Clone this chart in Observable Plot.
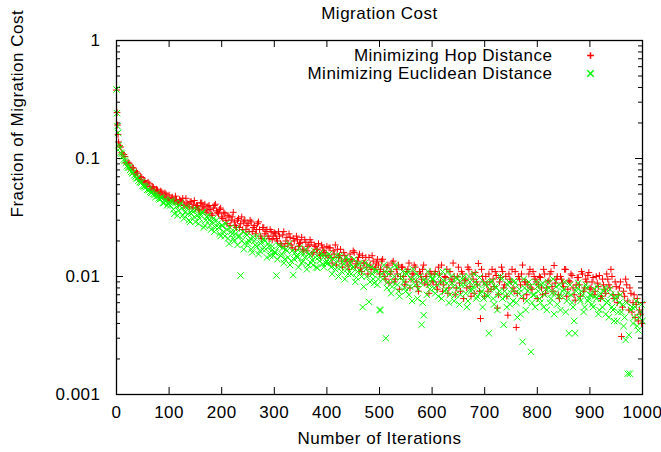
<!DOCTYPE html>
<html><head><meta charset="utf-8">
<script src="https://cdn.jsdelivr.net/npm/d3@7"></script>
<script src="https://cdn.jsdelivr.net/npm/@observablehq/plot@0.6"></script>
<style>
body{margin:0;background:#fff;}
#chart svg{display:block;}
</style></head><body><div id="chart"></div>
<script>
const title = "Migration Cost";
const xLabel = "Number of Iterations";
const yLabel = "Fraction of Migration Cost";
const seriesNames = ["Minimizing Hop Distance", "Minimizing Euclidean Distance"];
const xTicks = [0, 100, 200, 300, 400, 500, 600, 700, 800, 900, 1000];
const yTicks = [0.001, 0.01, 0.1, 1];
const yMinorFactors = [2, 3, 4, 5, 6, 7, 8, 9];

// iteration index of each plotted sample (two interleaved sample sets)
const iterationsA = [0, 1, 2, 3, ...d3.range(4, 1001, 4)];
const iterationsB = d3.range(6, 1000, 4);

// migration cost fraction, in thousandths
const hopPermilleA = [380, 245, 192, 160,
 138, 125, 108, 104, 90, 91, 80, 83, 74, 75, 66, 69, 64, 60, 63, 56, 58, 53, 55, 50, 53, 48, 51, 46, 49,
 46, 44, 48, 42, 45, 43, 40, 46, 41, 43, 38, 44, 40, 37, 42, 39, 41, 36, 40, 34, 38, 41, 35, 37, 32,
 35, 30, 33, 27, 32, 29, 26, 31, 28, 25, 30, 27, 24, 29, 26, 23, 28, 25, 21, 26, 24, 22, 25, 20.5, 23.5,
 21, 24, 19, 22.5, 18, 21.5, 23, 18.5, 21, 17, 20.5, 19, 21.5, 16.5, 19.5, 18, 20.5, 15.5, 18.5, 17, 19, 15, 17.5, 16, 18,
 17.5, 14.5, 16.5, 18.5, 17, 15, 13.5, 16, 14, 12.5, 15.5, 13.5, 16, 12.8, 14.5, 11.8, 15, 13, 12, 14.5, 11.5, 13.5, 12, 14, 10.5,
 13.5, 11, 9.5, 12.5, 10.5, 13, 9, 11.5, 12.5, 10, 12, 8.5, 11, 13, 9.5, 10.5, 12, 8.2, 11, 9.5, 12.5, 10, 8.5, 11, 9.2,
 10.5, 8.5, 12, 9, 7.5, 10, 11.5, 8, 9.5, 13, 7, 10, 8.8, 11, 6.5, 9.5, 12, 8.2, 10.5, 7.2, 9, 12.9, 4.4, 10, 6.8,
 8.5, 10.5, 7.8, 9.5, 11, 5.4, 9, 12, 8, 10, 4.7, 9.5, 11.5, 7.5, 3.7, 10, 8.5, 12.5, 9, 7, 10.5, 8, 11, 9.5, 6.5,
 10, 8, 11.5, 7.2, 9, 10.5, 8.2, 12.4, 9.5, 7, 10, 8.8, 11.5, 6.8, 9.2, 10.5, 8, 6.3, 9.8, 8.5, 11, 7.5, 9.5, 10.2, 7.8,
 9, 7, 10, 8.2, 6.5, 9.5, 7.8, 10.5, 8.5, 11.5, 7, 9, 6, 8, 3.1, 7.5, 9.5, 6.2, 8, 5, 7, 5.8, 4.2, 4.8, 6];

const hopPermilleB = [
 128, 112, 108, 92, 93, 83, 84, 74, 77, 67, 70, 63, 65, 58, 61, 54, 57, 51, 54, 49, 52, 47, 50, 45,
 44, 47, 43, 45, 41, 44, 46, 40, 42, 39, 43, 41, 38, 40, 36, 42, 38, 35, 39, 37, 33, 40, 36, 34, 38,
 31, 34, 28, 32, 30, 35, 27, 30, 26, 32, 29, 25, 28, 30, 24, 27, 25, 29, 22, 26, 23, 25, 21, 24, 22,
 23, 20, 22, 18.5, 24, 20, 19, 21.5, 17.5, 20, 22, 18, 19.5, 17, 20.5, 16.5, 18.5, 19.5, 16, 18, 17, 15.5, 18.5, 16.5, 15,
 15, 17.5, 13, 15.5, 12.5, 14.5, 17, 12, 15, 13.5, 11.5, 14, 16.5, 12, 13.5, 15.5, 11, 13, 14.5, 10.5, 12.5, 15, 11.5, 13, 12.5,
 11.5, 14, 10, 12, 8.8, 11, 13.5, 9.5, 10.5, 7.8, 12, 10, 9, 11.5, 8, 10.5, 12.5, 9, 7.5, 10.5, 11.5, 8.8, 10, 7.2, 10.5,
 9, 11, 7.8, 10.5, 12.5, 8.5, 9.8, 7.2, 11, 9, 10, 8, 12, 7.5, 10.5, 9.2, 8, 11.5, 6.8, 9.5, 10.8, 8.5, 7.5, 11.5, 9,
 10, 7.5, 9, 11.5, 8.2, 10.2, 7, 9.8, 11, 8.5, 6.8, 10.5, 9, 8, 11, 7.2, 9.5, 10.5, 6.5, 9, 8.5, 11.5, 7.8, 10, 9,
 8.5, 9.8, 7, 10.5, 8, 9.2, 11, 7.5, 8.8, 10, 6.5, 9.5, 8.2, 11.5, 7.8, 9, 10.2, 7, 8.5, 9.8, 6.8, 10.5, 8, 9, 10.8,
 8, 9.8, 7.5, 8.8, 10.2, 6.8, 8.5, 7.2, 9.5, 8, 10, 6.5, 8.2, 7, 9, 5.5, 6.8, 8.5, 5.2, 7.2, 6, 4.5, 6.5, 5.2, 4];

const euclidPermilleA = [385, 242, 188, 165,
 130, 112, 104, 96, 86, 84, 77, 76, 70, 68, 63, 63, 58, 57, 55, 52, 52, 49, 50, 46, 47, 42, 45, 40, 43,
 44, 37, 42, 33, 40, 38, 31, 39, 34, 29, 36, 32, 37, 28, 33, 35, 27, 32, 30, 25, 31, 26, 28, 23, 27,
 24, 28, 21, 26, 23, 20, 25.5, 22, 10.2, 24, 19, 22.5, 20, 17, 21.5, 18.5, 22, 16.5, 19.5, 21, 17, 19, 15, 18, 16,
 10.2, 18.5, 15, 17.5, 14, 16.5, 19, 13.5, 10.3, 16, 14.5, 17.5, 13, 15.5, 17, 12.5, 15, 13.8, 16.5, 12, 14.5, 16, 12.8, 15, 13.5,
 15.5, 12, 14, 11.5, 13.5, 15, 11, 12.8, 14.5, 10.5, 13, 11.8, 14, 9.8, 12.5, 11, 5.5, 13, 10, 6.1, 12, 9.5, 11.5, 8.5, 5.2,
 10.5, 12.5, 3.0, 9, 11.5, 8.2, 10, 12, 7.5, 9.8, 11, 8, 10.5, 7, 9.5, 11.5, 8.5, 6.5, 10, 3.9, 4.7, 9, 11, 7.8, 9.5,
 8, 10.5, 6.8, 9, 11, 7.5, 8.8, 6, 10, 8.2, 7, 9.5, 5.8, 8.5, 10, 7.2, 6.2, 9, 7.8, 10.5, 6.5, 8.5, 7.2, 5.5, 8.8,
 7, 3.3, 9, 6.5, 8.2, 5.2, 7.5, 9.5, 3.9, 6.8, 8.5, 5.8, 7.8, 9.2, 6, 7.2, 4.8, 2.8, 8, 6.2, 9, 2.3, 7, 5.5, 8.2,
 6.5, 8.5, 5.5, 7.8, 9, 6, 7.2, 4.8, 8.2, 6.8, 5.2, 7.5, 9, 6.2, 3.3, 7, 5.5, 3.3, 8, 6.5, 7.5, 5, 8.5, 6.2, 7,
 5.8, 7.8, 6.5, 4.8, 7.2, 5.5, 8, 6, 4.5, 7, 5.2, 6.5, 4.2, 6, 5, 3.8, 2.9, 1.5, 1.5, 5.5, 4.5, 6.2, 3.5, 5, 4.2];

const euclidPermilleB = [
 122, 110, 98, 92, 84, 80, 75, 72, 68, 65, 62, 59, 58, 54, 54, 51, 50, 47, 48, 45, 46, 42, 44, 41,
 40, 43, 34, 39, 36, 42, 33, 35, 38, 30, 34, 37, 29, 33, 31, 35, 26, 30, 33, 27, 29, 24, 30, 26, 22,
 27, 22, 25, 19, 24, 21, 23, 18.5, 22, 20, 17, 23, 19, 21, 16, 20, 18, 15.5, 19, 17, 20, 14.5, 18, 16.5, 15,
 16, 14, 18, 15.5, 13, 17, 14.5, 12.5, 16.5, 14, 15, 12, 16, 13.5, 14.5, 11.5, 15.5, 13, 12.5, 14.5, 11.8, 13.5, 15, 12, 13,
 13, 14.5, 10.5, 12.5, 15, 10, 12, 13.5, 9.5, 11.5, 14, 10.5, 12, 9, 11, 13, 10, 8.2, 11.5, 12.5, 9, 10.5, 8.8, 11, 9.5,
 5.2, 9.5, 11, 8, 10.5, 7.2, 9, 12.5, 8.5, 6.8, 10, 9, 7.5, 11, 8.2, 6.2, 9.5, 10.5, 7.8, 8.8, 6, 9.5, 7, 8.5, 10,
 9.5, 7.2, 8.5, 10, 6.5, 9.2, 7.8, 11, 7, 8.8, 6.2, 9.8, 8, 7, 9.5, 8.5, 5.5, 10, 7.5, 8.2, 9, 6.8, 9.8, 7.5, 6.5,
 8.5, 6.8, 7.8, 9.2, 5.8, 8, 7, 10, 6.5, 7.5, 5.5, 9, 7.2, 6.2, 8.8, 4.5, 7.8, 6.8, 9.5, 5.2, 7.5, 8.2, 6, 7, 9,
 7.5, 6, 8.8, 7, 5.2, 8, 6.5, 9.5, 7.2, 5.8, 8.5, 6.8, 7.8, 5, 7.2, 8.5, 6, 4.2, 7.5, 8.8, 6.2, 7, 5.5, 8, 6.5,
 7, 5.5, 6.8, 8.2, 5.2, 6.5, 7.5, 4.8, 6.2, 7.8, 5.5, 4.2, 6.8, 5, 7, 5.8, 4.5, 6, 3.2, 5.2, 4, 5.5, 3.8, 4.5, 5.8];

const toRows = (xs, vs) => xs.map((x, i) => ({x, v: vs[i] / 1000}));
const hop = [...toRows(iterationsA, hopPermilleA), ...toRows(iterationsB, hopPermilleB)];
const euclid = [...toRows(iterationsA, euclidPermilleA), ...toRows(iterationsB, euclidPermilleB)];
const yMinor = yTicks.slice(0, -1).flatMap(d => yMinorFactors.map(f => +(d * f).toPrecision(3)));

const W = 661, H = 452, mL = 116, mR = 19, mT = 40, mB = 58;
const fw = W - mL - mR, fh = H - mT - mB;
const majorLen = 7, minorLen = 4;
const red = "#ff0000", green = "#00ff00";
const plusR = 2.3, timesR = 3.0;

const chart = Plot.plot({
  width: W, height: H,
  marginLeft: mL, marginRight: mR, marginTop: mT, marginBottom: mB,
  style: {fontFamily: "'Liberation Sans', Arial, sans-serif", fontSize: "17px", background: "white", color: "black", letterSpacing: "0.5px", overflow: "visible"},
  x: {domain: [0, 1000], label: null},
  y: {type: "log", domain: [0.001, 1], label: null},
  marks: [
    Plot.axisX({ticks: xTicks, tickSize: 0, tickPadding: 11, label: null, tickFormat: d => String(d)}),
    Plot.axisY({ticks: yTicks, tickSize: 0, tickPadding: 16, label: null, tickFormat: d => String(d)}),
    Plot.tickX(xTicks, {x: d => d, insetTop: fh - majorLen, stroke: "black"}),
    Plot.tickX(xTicks, {x: d => d, insetBottom: fh - majorLen, stroke: "black"}),
    Plot.tickY(yTicks, {y: d => d, insetRight: fw - majorLen, stroke: "black"}),
    Plot.tickY(yTicks, {y: d => d, insetLeft: fw - majorLen, stroke: "black"}),
    Plot.tickY(yMinor, {y: d => d, insetRight: fw - minorLen, stroke: "black"}),
    Plot.tickY(yMinor, {y: d => d, insetLeft: fw - minorLen, stroke: "black"}),
    Plot.dot(hop, {x: "x", y: "v", symbol: "plus", r: plusR, stroke: red, strokeWidth: 1}),
    Plot.dot(euclid, {x: "x", y: "v", symbol: "times", r: timesR, stroke: green, strokeWidth: 1}),
    Plot.frame({stroke: "black", strokeWidth: 1.3}),
    Plot.text([title], {frameAnchor: "top", lineAnchor: "middle", dy: -27, text: d => d}),
    Plot.text([xLabel], {frameAnchor: "bottom", lineAnchor: "middle", dy: 44, text: d => d}),
    Plot.text([yLabel], {frameAnchor: "left", lineAnchor: "middle", dx: -99, rotate: -90, text: d => d}),
    Plot.text([seriesNames[0]], {frameAnchor: "top-right", lineAnchor: "middle", dx: -90, dy: 15, textAnchor: "end", text: d => d}),
    Plot.text([seriesNames[1]], {frameAnchor: "top-right", lineAnchor: "middle", dx: -90, dy: 33, textAnchor: "end", text: d => d}),
    Plot.dot([seriesNames[0]], {frameAnchor: "top-right", dx: -52, dy: 15, symbol: "plus", r: plusR, stroke: red}),
    Plot.dot([seriesNames[1]], {frameAnchor: "top-right", dx: -52, dy: 33, symbol: "times", r: timesR, stroke: green})
  ]
});
document.getElementById("chart").appendChild(chart);
</script>
</body></html>
